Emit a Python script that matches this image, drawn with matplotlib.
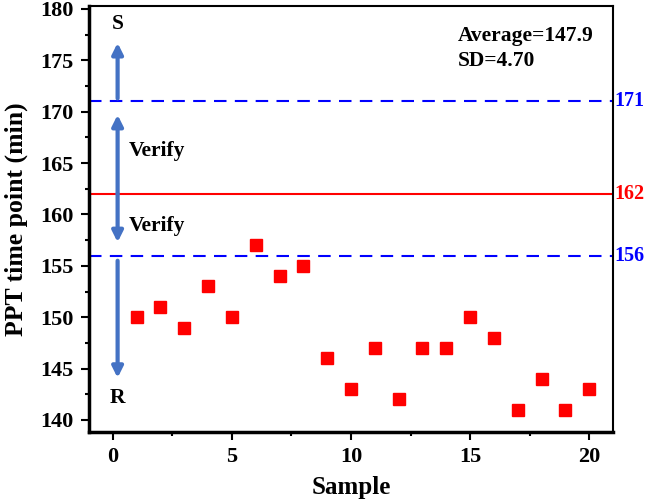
import matplotlib
matplotlib.use("Agg")
import matplotlib.pyplot as plt
from matplotlib.ticker import MultipleLocator

samples = [1, 2, 3, 4, 5, 6, 7, 8, 9, 10, 11, 12, 13, 14, 15, 16, 17, 18, 19, 20]
ppt = [150, 151, 149, 153, 150, 157, 154, 155, 146, 143, 147, 142, 147, 147, 150, 148, 141, 144, 141, 143]
upper_line = 171
mid_line = 162
lower_line = 156
avg_text = "Average=147.9"
sd_text = "SD=4.70"

plt.rcParams['font.family'] = ['Liberation Serif', 'DejaVu Serif']
plt.rcParams['font.weight'] = 'bold'

fig = plt.figure(figsize=(6.46, 5.01), dpi=100)
ax = fig.add_axes([0.1378, 0.1377, 0.8112, 0.8503])

ax.plot(samples, ppt, 's', color='#ff0000', markersize=9, zorder=3)
ax.axhline(upper_line, color='#0000ff', ls=(0, (6, 4)), lw=1.5)
ax.axhline(lower_line, color='#0000ff', ls=(0, (6, 4)), lw=1.5)
ax.axhline(mid_line, color='#ff0000', lw=1.5)

ax.set_xlim(-1, 21)
ax.set_ylim(138.83, 180.29)
ax.xaxis.set_major_locator(MultipleLocator(5))
ax.xaxis.set_minor_locator(MultipleLocator(2.5))
ax.yaxis.set_major_locator(MultipleLocator(5))
ax.yaxis.set_minor_locator(MultipleLocator(2.5))
ax.tick_params(which='major', direction='out', length=6, width=1.5, labelsize=16, pad=5)
ax.tick_params(which='minor', direction='out', length=3, width=1.5)
for s in ['top', 'right']:
    ax.spines[s].set_linewidth(1.5)
for s in ['left', 'bottom']:
    ax.spines[s].set_linewidth(2.5)

ax.set_xlabel('Sample', fontsize=18, fontweight='bold', labelpad=6)
ax.set_ylabel('PPT time point (min)', fontsize=18.5, fontweight='bold', labelpad=9)

arrow_color = '#4472C4'
ap = dict(arrowstyle='-|>', color=arrow_color, lw=3, mutation_scale=16, shrinkA=0, shrinkB=0)
ax.annotate('', xy=(0.2, 176.7), xytext=(0.2, 171.3), arrowprops=ap)
ax.annotate('', xy=(0.2, 169.7), xytext=(0.2, 162), arrowprops=ap)
ax.annotate('', xy=(0.2, 157.3), xytext=(0.2, 162), arrowprops=ap)
ax.annotate('', xy=(0.2, 144.1), xytext=(0.2, 155.5), arrowprops=ap)

ax.text(0.2, 178.5, 'S', fontsize=15.5, fontweight='bold', ha='center', va='center')
ax.text(0.65, 166.2, 'Verify', fontsize=15.5, fontweight='bold', ha='left', va='center')
ax.text(0.65, 158.9, 'Verify', fontsize=15.5, fontweight='bold', ha='left', va='center')
ax.text(0.2, 142.1, 'R', fontsize=15.5, fontweight='bold', ha='center', va='center')

ax.text(14.5, 177.4, avg_text, fontsize=15.5, fontweight='bold', ha='left', va='center')
ax.text(14.5, 174.9, sd_text, fontsize=15.5, fontweight='bold', ha='left', va='center')

for val, col in [(upper_line, '#0000ff'), (mid_line, '#ff0000'), (lower_line, '#0000ff')]:
    ax.text(1.002, val, str(val), transform=ax.get_yaxis_transform(), color=col,
            fontsize=14.5, fontweight='bold', ha='left', va='center')

fig.savefig('out.png', dpi=100)
